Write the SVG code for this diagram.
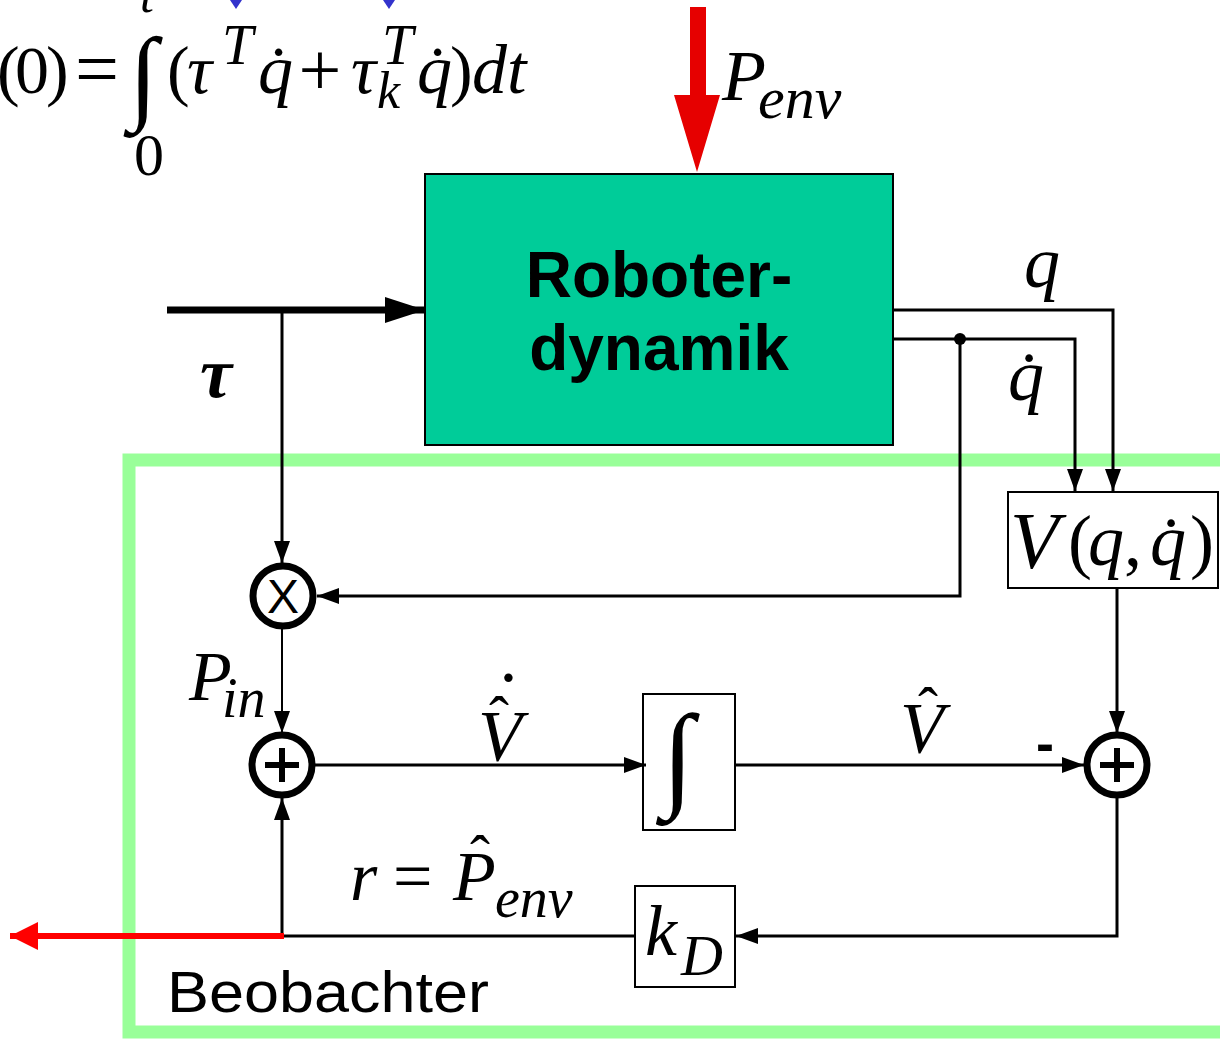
<svg xmlns="http://www.w3.org/2000/svg" width="1220" height="1039" viewBox="0 0 1220 1039">
<defs>
<style>
.m{font-family:"Liberation Serif","Times New Roman",serif;font-style:italic;fill:#000}
.u{font-family:"Liberation Serif","Times New Roman",serif;fill:#000}
.s{font-family:"Liberation Sans",Arial,sans-serif;fill:#000}
.ln{stroke:#000;stroke-width:3;fill:none}
.bx{fill:#fff;stroke:#000;stroke-width:2}
.op{fill:#fff;stroke:#000;stroke-width:7}
.pl{stroke:#000;stroke-width:6}
</style>
<marker id="ah" markerUnits="userSpaceOnUse" markerWidth="22" markerHeight="16" viewBox="0 0 22 16" refX="22" refY="8" orient="auto"><path d="M0,0 L22,8 L0,16 z" fill="#000"/></marker>
<marker id="ahT" markerUnits="userSpaceOnUse" markerWidth="40" markerHeight="26" viewBox="0 0 40 26" refX="40" refY="13" orient="auto"><path d="M0,0 L40,13 L0,26 z" fill="#000"/></marker>
<marker id="ahR" markerUnits="userSpaceOnUse" markerWidth="28" markerHeight="28" viewBox="0 0 28 28" refX="28" refY="14" orient="auto"><path d="M0,0 L28,14 L0,28 z" fill="#ff0000"/></marker>
</defs>
<rect width="1220" height="1039" fill="#fff"/>

<!-- observer frame -->
<g id="beobachter">
<rect x="129" y="460" width="1110" height="572" fill="none" stroke="#99ff99" stroke-width="13"/>
<text class="s" x="167" y="1012" font-size="58" textLength="322" lengthAdjust="spacingAndGlyphs">Beobachter</text>
</g>

<!-- formula top-left -->
<g id="formula">
<text class="u" x="-3" y="93" font-size="68">(</text>
<text class="u" x="15" y="93" font-size="68">0</text>
<text class="u" x="46" y="93" font-size="68">)</text>
<text class="u" x="97" y="95" font-size="78" text-anchor="middle">=</text>
<text class="u" x="129" y="110" font-size="104">∫</text>
<text class="m" x="140" y="12" font-size="50">t</text>
<text class="u" x="134" y="175" font-size="60">0</text>
<text class="u" x="167" y="93" font-size="68">(</text>
<text class="m" x="187" y="93" font-size="70">τ</text>
<text class="m" x="222" y="64" font-size="56">T</text>
<text class="m" x="258" y="93" font-size="70">q̇</text>
<text class="u" x="320" y="95" font-size="76" text-anchor="middle">+</text>
<text class="m" x="351" y="93" font-size="70">τ</text>
<text class="m" x="382" y="64" font-size="56">T</text>
<text class="m" x="377" y="108" font-size="52">k</text>
<text class="m" x="417" y="93" font-size="70">q̇</text>
<text class="u" x="450" y="93" font-size="68">)</text>
<text class="m" x="472" y="93" font-size="70">dt</text>
<polygon points="230,0 242,0 236,9" fill="#3333cc"/>
<polygon points="383,0 395,0 389,9" fill="#3333cc"/>
</g>

<!-- P_env red arrow -->
<g id="penv">
<polygon points="690,7 706,7 706,95 720,95 697,172 674,95 690,95" fill="#e60000"/>
<text class="m" x="722" y="100" font-size="72">P</text>
<text class="m" x="758" y="118" font-size="60">env</text>
</g>

<!-- robot dynamics -->
<g id="roboterdynamik">
<rect x="425" y="174" width="468" height="271" fill="#00cc99" stroke="#000" stroke-width="2"/>
<text class="s" x="659" y="297" font-size="64" font-weight="bold" text-anchor="middle">Roboter-</text>
<text class="s" x="659" y="370" font-size="64" font-weight="bold" text-anchor="middle">dynamik</text>
</g>

<g id="vbox">
<rect class="bx" x="1008" y="492" width="210" height="96"/>
<text class="m" x="1010" y="568" font-size="80">V</text>
<text class="u" x="1068" y="565" font-size="72">(</text>
<text class="m" x="1088" y="565" font-size="72">q</text>
<text class="u" x="1124" y="565" font-size="72">,</text>
<text class="m" x="1150" y="565" font-size="72">q̇</text>
<text class="u" x="1190" y="565" font-size="72">)</text>
</g>

<g id="mult">
<circle class="op" cx="283" cy="596" r="30"/>
<text class="s" x="283" y="613" font-size="48" text-anchor="middle">X</text>
</g>

<g id="sum1">
<circle class="op" cx="282" cy="765" r="30"/>
<line class="pl" x1="265" y1="765" x2="299" y2="765"/>
<line class="pl" x1="282" y1="748" x2="282" y2="782"/>
</g>

<g id="sum2">
<circle class="op" cx="1117" cy="765" r="30"/>
<line class="pl" x1="1100" y1="765" x2="1134" y2="765"/>
<line class="pl" x1="1117" y1="748" x2="1117" y2="782"/>
</g>

<g id="integrator">
<rect class="bx" x="643" y="694" width="92" height="136"/>
<text class="u" x="662" y="795" font-size="116">∫</text>
</g>

<g id="kd">
<rect class="bx" x="635" y="886" width="100" height="101"/>
<text class="m" x="645" y="955" font-size="72">k</text>
<text class="m" x="681" y="975" font-size="58">D</text>
</g>

<!-- connectors -->
<g id="connectors">
<line x1="167" y1="310" x2="425" y2="310" stroke="#000" stroke-width="7" marker-end="url(#ahT)"/>
<line class="ln" x1="282" y1="310" x2="282" y2="563" marker-end="url(#ah)"/>
<polyline class="ln" points="960,339 960,596 317,596" marker-end="url(#ah)"/>
<polyline class="ln" points="893,310 1113,310 1113,491" marker-end="url(#ah)"/>
<polyline class="ln" points="893,339 1075,339 1075,491" marker-end="url(#ah)"/>
<circle cx="960" cy="339" r="6" fill="#000"/>
<line x1="282" y1="627" x2="282" y2="733" stroke="#000" stroke-width="2" marker-end="url(#ah)"/>
<line class="ln" x1="313" y1="765" x2="646" y2="765" marker-end="url(#ah)"/>
<line class="ln" x1="735" y1="765" x2="1084" y2="765" marker-end="url(#ah)"/>
<line class="ln" x1="1117" y1="588" x2="1117" y2="733" marker-end="url(#ah)"/>
<polyline class="ln" points="1117,797 1117,936 736,936" marker-end="url(#ah)"/>
<polyline class="ln" points="635,936 282,936 282,798" marker-end="url(#ah)"/>
<line x1="284" y1="936" x2="10" y2="936" stroke="#ff0000" stroke-width="6" marker-end="url(#ahR)"/>
</g>

<!-- labels -->
<g id="labels">
<text class="m" x="200" y="397" font-size="72" font-weight="bold">τ</text>
<text class="m" x="1024" y="287" font-size="72">q</text>
<text class="m" x="1008" y="400" font-size="72">q̇</text>
<text class="m" x="189" y="700" font-size="70">P</text>
<text class="m" x="222" y="717" font-size="56">in</text>
<text class="m" x="478" y="760" font-size="72">V</text>
<text class="u" x="489" y="737" font-size="60">ˆ</text>
<text class="u" x="495" y="727" font-size="80">˙</text>
<text class="m" x="900" y="752" font-size="72">V</text>
<text class="u" x="918" y="728" font-size="60">ˆ</text>
<text class="s" x="1036" y="762" font-size="54" font-weight="bold">-</text>
<text class="m" x="350" y="900" font-size="70">r</text>
<text class="u" x="393" y="900" font-size="70">=</text>
<text class="m" x="453" y="900" font-size="70">P</text>
<text class="u" x="470" y="876" font-size="60">ˆ</text>
<text class="m" x="495" y="917" font-size="56">env</text>
</g>
</svg>
